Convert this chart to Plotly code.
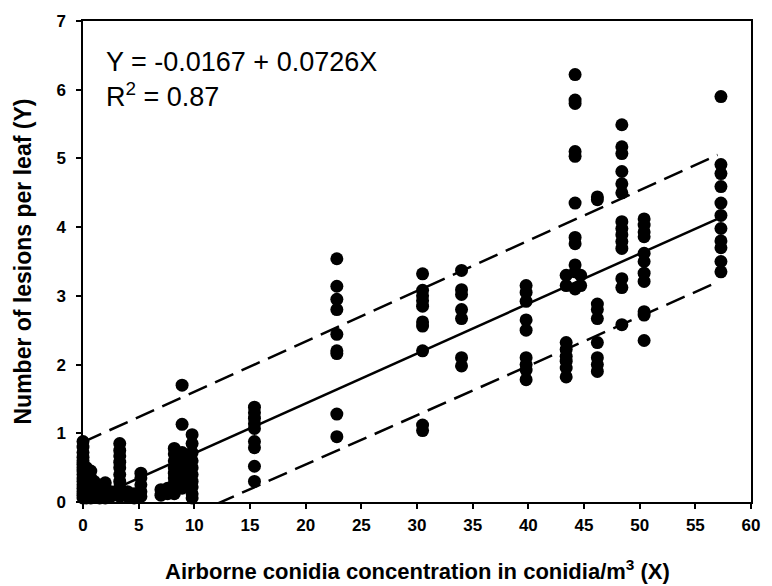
import plotly.graph_objects as go

# ---- data ----
conc_groups = [0.0, 0.3, 0.7, 1.0, 1.5, 2.0, 2.5, 3.3, 4.0, 4.6, 5.2, 7.0, 7.6, 8.2, 8.9, 9.8,
               15.4, 22.8, 30.5, 34.0, 39.8, 43.4, 44.2, 44.7, 46.2, 48.4, 50.4, 57.3]
lesion_groups = [
    [0.88, 0.8, 0.72, 0.65, 0.6, 0.55, 0.5, 0.45, 0.4, 0.35, 0.3, 0.25, 0.2, 0.15, 0.1, 0.06],
    [0.5, 0.4, 0.3, 0.2, 0.1, 0.06],
    [0.45, 0.35, 0.28, 0.2, 0.12, 0.06],
    [0.3, 0.22, 0.15, 0.08],
    [0.18, 0.1, 0.06],
    [0.28, 0.2, 0.12, 0.06],
    [0.15, 0.08],
    [0.85, 0.75, 0.67, 0.58, 0.5, 0.4, 0.3, 0.22, 0.15, 0.08],
    [0.15, 0.08],
    [0.12, 0.06],
    [0.42, 0.35, 0.25, 0.15, 0.08],
    [0.18, 0.1],
    [0.2, 0.12],
    [0.78, 0.7, 0.6, 0.5, 0.42, 0.35, 0.28, 0.2, 0.12],
    [1.7, 1.13, 0.72, 0.62, 0.5, 0.4, 0.3, 0.2],
    [0.98, 0.85, 0.72, 0.6, 0.5, 0.4, 0.3, 0.22, 0.12, 0.06],
    [1.38, 1.3, 1.22, 1.14, 1.07, 0.88, 0.79, 0.52, 0.3],
    [3.54, 3.14, 2.95, 2.8, 2.44, 2.2, 2.16, 1.28, 0.95],
    [3.32, 3.08, 3.0, 2.93, 2.85, 2.62, 2.56, 2.2, 1.12, 1.04],
    [3.37, 3.09, 3.02, 2.8, 2.67, 2.1, 1.98],
    [3.15, 3.05, 2.92, 2.65, 2.5, 2.1, 2.0, 1.92, 1.78],
    [3.3, 3.15, 2.32, 2.22, 2.12, 2.05, 1.95, 1.82],
    [6.22, 5.85, 5.8, 5.1, 5.03, 4.35, 3.85, 3.76, 3.45, 3.35, 3.1],
    [3.3, 3.15],
    [4.44, 4.4, 2.88, 2.8, 2.67, 2.32, 2.1, 2.0, 1.9],
    [5.49, 5.17, 5.07, 4.81, 4.63, 4.5, 4.08, 3.98, 3.89, 3.79, 3.69, 3.25, 3.12, 2.58],
    [4.12, 4.03, 3.93, 3.86, 3.62, 3.5, 3.33, 3.21, 2.77, 2.72, 2.35],
    [5.9, 4.91, 4.78, 4.59, 4.35, 4.17, 3.98, 3.8, 3.7, 3.5, 3.35],
]

intercept = -0.0167
slope = 0.0726
fit_x = [0, 57]
band_x = [0, 57]
band_upper = [0.87, 5.05]
band_lower = [-0.89, 3.2]

x_ticks = list(range(0, 61, 5))
y_ticks = list(range(0, 8))

# ---- build ----
xs, ys = [], []
for cx, vals in zip(conc_groups, lesion_groups):
    for v in vals:
        xs.append(cx)
        ys.append(v)

fit_y = [intercept + slope * x for x in fit_x]

fig = go.Figure()
fig.add_trace(go.Scatter(x=xs, y=ys, mode="markers",
                         marker=dict(color="black", size=13, line=dict(width=0)),
                         cliponaxis=False, showlegend=False))
fig.add_trace(go.Scatter(x=fit_x, y=fit_y, mode="lines",
                         line=dict(color="black", width=2.5), showlegend=False))
fig.add_trace(go.Scatter(x=band_x, y=band_upper, mode="lines",
                         line=dict(color="black", width=2.5, dash="20px,9px"), showlegend=False))
fig.add_trace(go.Scatter(x=band_x, y=band_lower, mode="lines",
                         line=dict(color="black", width=2.5, dash="20px,9px"), showlegend=False))

tickfont = dict(family="Liberation Sans, Arial, sans-serif", size=17, color="black", weight="bold")
fig.update_xaxes(range=[0, 60], tickvals=x_ticks, showgrid=False, zeroline=False,
                 showline=True, linecolor="black", linewidth=1.5, mirror=True,
                 ticks="outside", ticklen=5, tickwidth=1.5, tickcolor="black",
                 tickfont=tickfont, ticklabelstandoff=2)
fig.update_yaxes(range=[0, 7], tickvals=y_ticks, showgrid=False, zeroline=False,
                 showline=True, linecolor="black", linewidth=1.5, mirror=True,
                 ticks="outside", ticklen=5, tickwidth=1.5, tickcolor="black",
                 tickfont=tickfont, ticklabelstandoff=7)

fig.update_layout(
    width=772, height=586,
    margin=dict(l=83, r=14, t=19, b=84),
    paper_bgcolor="white", plot_bgcolor="white",
    font=dict(family="Liberation Sans, Arial, sans-serif", color="black"),
    annotations=[
        dict(text="Y = -0.0167 + 0.0726X", xref="paper", yref="paper", x=0.031, y=0.915,
             xanchor="left", yanchor="middle", showarrow=False,
             font=dict(size=27, color="black")),
        dict(text="R<sup>2</sup> = 0.87", xref="paper", yref="paper", x=0.031, y=0.846,
             xanchor="left", yanchor="middle", showarrow=False,
             font=dict(size=27, color="black")),
        dict(text="Airborne conidia concentration in conidia/m<sup>3</sup> (X)",
             xref="paper", yref="paper", x=0.5, y=0, yshift=-68,
             xanchor="center", yanchor="middle", showarrow=False,
             font=dict(size=22, color="black", weight="bold")),
        dict(text="Number of lesions per leaf (Y)", xref="paper", yref="paper",
             x=0, y=0.5, xshift=-61, textangle=-90,
             xanchor="center", yanchor="middle", showarrow=False,
             font=dict(size=23, color="black", weight="bold")),
    ],
)

fig.write_html("out.html")
